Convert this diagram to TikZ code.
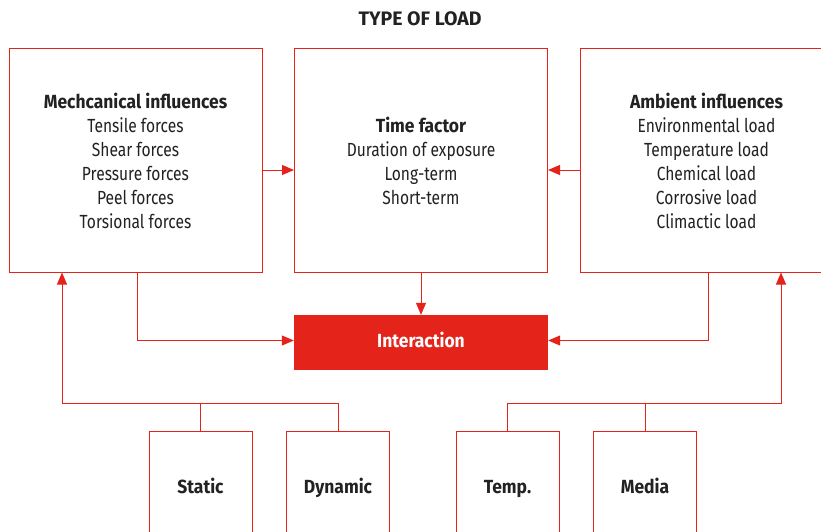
\documentclass[tikz,border=0pt]{standalone}
\usepackage{fontspec}
\setmainfont{Fira Sans}[FakeStretch=0.82]
\newfontfamily\headfont{Fira Sans}[FakeStretch=0.92]
\newfontfamily\titlefont{Fira Sans}
\usetikzlibrary{arrows.meta}
\definecolor{loadred}{RGB}{228,35,26}
\definecolor{textdark}{RGB}{34,34,34}

\begin{document}
\begin{tikzpicture}[x=1pt, y=-1pt,
  bigbox/.style={draw=loadred, line width=1pt, fill=white, minimum width=253pt, minimum height=223pt,
    inner sep=0pt, align=center, text=textdark, font=\fontsize{19}{24}\selectfont},
  smallbox/.style={draw=loadred, line width=1pt, fill=white, minimum width=103pt, minimum height=112pt,
    inner sep=0pt, text height=14pt, text depth=2pt, text=textdark, font=\fontsize{19}{24}\selectfont\headfont\bfseries},
  link/.style={loadred, line width=1pt},
  arr/.style={link, -{Triangle[length=12pt, width=10pt]}}]

  % Page frame (right box and bottom boxes run off the edge)
  \useasboundingbox (0,0) rectangle (821,532);
  \clip (0,0) rectangle (821,532);

  % Title
  \node[text=textdark, font=\fontsize{19.5}{22}\selectfont\titlefont\bfseries] (title) at (420,19) {TYPE OF LOAD};

  % Upper row
  \node[bigbox] (mech) at (135.5,160.5) {{\headfont\bfseries Mechcanical influences}\\Tensile forces\\Shear forces\\Pressure forces\\Peel forces\\Torsional forces};
  \node[bigbox] (time) at (421,160.5) {{\headfont\bfseries Time factor}\\Duration of exposure\\Long-term\\Short-term};
  \node[bigbox] (amb) at (706.5,160.5) {{\headfont\bfseries Ambient influences}\\Environmental load\\Temperature load\\Chemical load\\Corrosive load\\Climactic load};

  % Result
  \node[fill=loadred, minimum width=254pt, minimum height=55pt, inner sep=0pt, text=white,
    text height=13pt, text depth=4pt, font=\fontsize{19}{22}\selectfont\headfont\bfseries] (inter) at (421,342.5) {Interaction};

  % Bottom row
  \node[smallbox] (static) at (200.5,487) {Static};
  \node[smallbox] (dynamic) at (338,487) {Dynamic};
  \node[smallbox] (temp) at (507.5,487) {Temp.};
  \node[smallbox] (media) at (645,487) {Media};

  % Arrows into the time factor and the interaction
  \draw[arr] ([yshift=-9.5pt]mech.east) -- ([yshift=-9.5pt]time.west);
  \draw[arr] ([yshift=-9.5pt]amb.west) -- ([yshift=-9.5pt]time.east);
  \draw[arr] (time.south) -- (inter.north);
  \draw[arr] ([xshift=1.5pt]mech.south) |- ([yshift=2pt]inter.west);
  \draw[arr] ([xshift=1.5pt]amb.south) |- ([yshift=2pt]inter.east);

  % Bottom branches
  \coordinate (lcol) at (62,403);
  \coordinate (rcol) at (781,403);
  \draw[arr] (dynamic.north) |- (lcol) -- (lcol |- mech.south);
  \draw[link] (static.north) -- (static.north |- lcol);
  \draw[arr] (temp.north) |- (rcol) -- (rcol |- amb.south);
  \draw[link] (media.north) -- (media.north |- rcol);
\end{tikzpicture}
\end{document}
